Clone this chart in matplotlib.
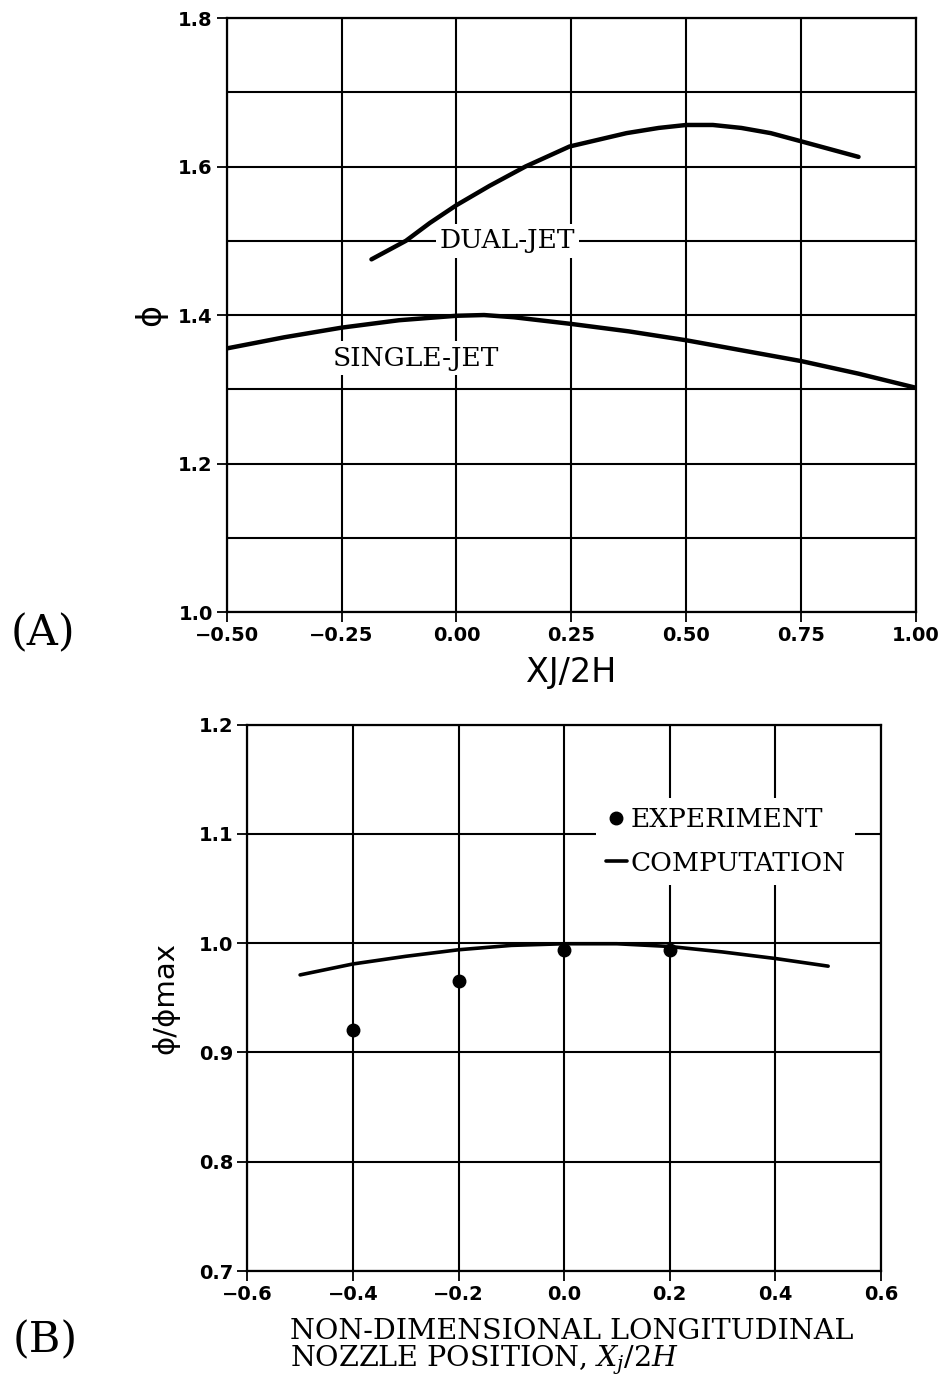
import numpy as np
import matplotlib.pyplot as plt

plt.rcParams['mathtext.fontset'] = 'dejavuserif'

# panel A data
dual_x = [-0.185, -0.11, -0.058, 0.0, 0.072, 0.15, 0.246, 0.37, 0.44, 0.5, 0.558, 0.62, 0.684, 0.75, 0.875]
dual_y = [1.475, 1.500, 1.524, 1.548, 1.574, 1.600, 1.627, 1.645, 1.652, 1.656, 1.656, 1.652, 1.645, 1.634, 1.613]
single_x = [-0.5, -0.375, -0.25, -0.125, 0.0, 0.06, 0.125, 0.25, 0.375, 0.5, 0.625, 0.75, 0.875, 1.0]
single_y = [1.355, 1.370, 1.383, 1.393, 1.399, 1.400, 1.397, 1.388, 1.378, 1.366, 1.352, 1.338, 1.321, 1.302]

# panel B data
comp_x = [-0.5, -0.4, -0.3, -0.2, -0.1, 0.0, 0.1, 0.2, 0.3, 0.4, 0.5]
comp_y = [0.971, 0.981, 0.988, 0.994, 0.998, 0.9995, 0.9995, 0.997, 0.992, 0.986, 0.979]
exp_x = [-0.4, -0.2, 0.0, 0.2]
exp_y = [0.921, 0.965, 0.994, 0.994]

tick_font = dict(family='DejaVu Sans', weight='bold', size=14)
serif = 'DejaVu Serif'

fig = plt.figure(figsize=(9.49, 13.79), dpi=100)

###############################################################################
# (A)
###############################################################################
ax1 = fig.add_axes([0.2389, 0.5562, 0.7263, 0.4307])
ax1.set_xlim(-0.5, 1.0)
ax1.set_ylim(1.0, 1.8)
ax1.set_xticks([-0.5, -0.25, 0.0, 0.25, 0.5, 0.75, 1.0])
ax1.set_xticklabels(['\u22120.50', '\u22120.25', '0.00', '0.25', '0.50', '0.75', '1.00'], **tick_font)
ax1.set_yticks([1.0, 1.2, 1.4, 1.6, 1.8])
ax1.set_yticklabels(['1.0', '1.2', '1.4', '1.6', '1.8'], **tick_font)
ax1.set_yticks(np.arange(1.1, 1.8, 0.2), minor=True)
ax1.tick_params(which='major', direction='out', length=7, width=1.3, color='black', pad=3)
ax1.tick_params(which='minor', length=0)
ax1.grid(True, which='both', color='black', linewidth=1.5)
ax1.set_axisbelow(True)
for s in ax1.spines.values():
    s.set_linewidth(1.6)

ax1.plot(dual_x, dual_y, color='black', linewidth=3.2, solid_capstyle='round',
         solid_joinstyle='round', zorder=3)
ax1.plot(single_x, single_y, color='black', linewidth=3.2, solid_capstyle='round',
         solid_joinstyle='round', zorder=3)

ax1.text(0.111, 1.5, 'DUAL-JET', family=serif, fontsize=19, ha='center', va='center',
         bbox=dict(facecolor='white', edgecolor='none', pad=3), zorder=4)
ax1.text(-0.089, 1.342, 'SINGLE-JET', family=serif, fontsize=19, ha='center', va='center',
         bbox=dict(facecolor='white', edgecolor='none', pad=3), zorder=4)

ax1.set_xlabel('XJ/2H', family='DejaVu Sans', fontsize=24, labelpad=8)
ax1.set_ylabel('\u03d5', family='DejaVu Sans', fontsize=24, labelpad=8)

fig.text(0.045, 0.541, '(A)', family=serif, fontsize=31, ha='center', va='center')

###############################################################################
# (B)
###############################################################################
ax2 = fig.add_axes([0.2606, 0.0783, 0.6677, 0.3962])
ax2.set_xlim(-0.6, 0.6)
ax2.set_ylim(0.7, 1.2)
ax2.set_xticks([-0.6, -0.4, -0.2, 0.0, 0.2, 0.4, 0.6])
ax2.set_xticklabels(['\u22120.6', '\u22120.4', '\u22120.2', '0.0', '0.2', '0.4', '0.6'], **tick_font)
ax2.set_yticks([0.7, 0.8, 0.9, 1.0, 1.1, 1.2])
ax2.set_yticklabels(['0.7', '0.8', '0.9', '1.0', '1.1', '1.2'], **tick_font)
ax2.tick_params(direction='out', length=7, width=1.3, color='black', pad=3)
ax2.grid(True, color='black', linewidth=1.5)
ax2.set_axisbelow(True)
for s in ax2.spines.values():
    s.set_linewidth(1.6)

ax2.plot(comp_x, comp_y, color='black', linewidth=2.6, solid_capstyle='round',
         solid_joinstyle='round', zorder=3, label='COMPUTATION')
ax2.plot(exp_x, exp_y, 'o', color='black', markersize=9, zorder=4, label='EXPERIMENT')

leg = ax2.legend(handles=[ax2.lines[1], ax2.lines[0]], loc='upper right',
                 bbox_to_anchor=(0.98, 0.89), frameon=True, fancybox=False,
                 edgecolor='none', framealpha=1.0, handlelength=0.8, handletextpad=0.15,
                 borderpad=0.35, labelspacing=0.7, prop=dict(family=serif, size=19))
leg.set_zorder(5)

fig.text(290 / 949, 1 - 1318 / 1379, 'NON-DIMENSIONAL LONGITUDINAL\nNOZZLE POSITION, $X_j/2H$',
         family=serif, fontsize=20.5, linespacing=0.95, ha='left', va='top',
         multialignment='left')
ax2.set_ylabel('\u03d5/\u03d5max', family='DejaVu Sans', fontsize=21, labelpad=14)

fig.text(0.048, 0.028, '(B)', family=serif, fontsize=31, ha='center', va='center')

fig.savefig('out.png', dpi=100)
